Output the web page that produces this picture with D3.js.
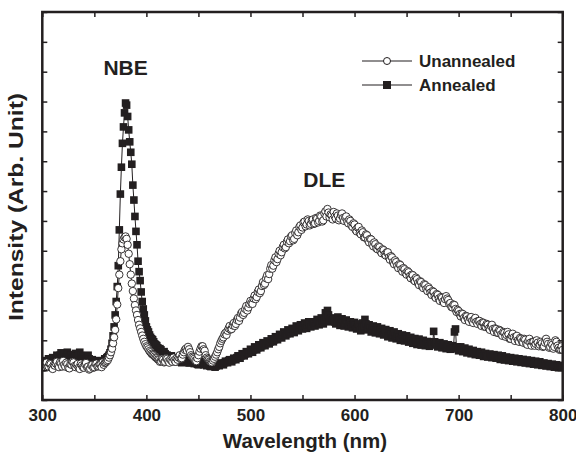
<!DOCTYPE html>
<html>
<head>
<meta charset="utf-8">
<script src="https://cdn.jsdelivr.net/npm/d3@7"></script>
<style>
  body { margin: 0; background: #fff; }
  svg { display: block; }
  text { font-family: "Liberation Sans", Arial, sans-serif; font-weight: bold; fill: #231f20; }
</style>
</head>
<body>
<div id="chart"></div>
<script>
// wavelength grid (nm), 1 nm steps
const wavelength = [
  300,301,302,303,304,305,306,307,308,309,310,311,312,313,314,315,316,317,318,319,
  320,321,322,323,324,325,326,327,328,329,330,331,332,333,334,335,336,337,338,339,
  340,341,342,343,344,345,346,347,348,349,350,351,352,353,354,355,356,357,358,359,
  360,361,362,363,364,365,366,367,368,369,370,371,372,373,374,375,376,377,378,379,
  380,381,382,383,384,385,386,387,388,389,390,391,392,393,394,395,396,397,398,399,
  400,401,402,403,404,405,406,407,408,409,410,411,412,413,414,415,416,417,418,419,
  420,421,422,423,424,425,426,427,428,429,430,431,432,433,434,435,436,437,438,439,
  440,441,442,443,444,445,446,447,448,449,450,451,452,453,454,455,456,457,458,459,
  460,461,462,463,464,465,466,467,468,469,470,471,472,473,474,475,476,477,478,479,
  480,481,482,483,484,485,486,487,488,489,490,491,492,493,494,495,496,497,498,499,
  500,501,502,503,504,505,506,507,508,509,510,511,512,513,514,515,516,517,518,519,
  520,521,522,523,524,525,526,527,528,529,530,531,532,533,534,535,536,537,538,539,
  540,541,542,543,544,545,546,547,548,549,550,551,552,553,554,555,556,557,558,559,
  560,561,562,563,564,565,566,567,568,569,570,571,572,573,574,575,576,577,578,579,
  580,581,582,583,584,585,586,587,588,589,590,591,592,593,594,595,596,597,598,599,
  600,601,602,603,604,605,606,607,608,609,610,611,612,613,614,615,616,617,618,619,
  620,621,622,623,624,625,626,627,628,629,630,631,632,633,634,635,636,637,638,639,
  640,641,642,643,644,645,646,647,648,649,650,651,652,653,654,655,656,657,658,659,
  660,661,662,663,664,665,666,667,668,669,670,671,672,673,674,675,676,677,678,679,
  680,681,682,683,684,685,686,687,688,689,690,691,692,693,694,695,696,697,698,699,
  700,701,702,703,704,705,706,707,708,709,710,711,712,713,714,715,716,717,718,719,
  720,721,722,723,724,725,726,727,728,729,730,731,732,733,734,735,736,737,738,739,
  740,741,742,743,744,745,746,747,748,749,750,751,752,753,754,755,756,757,758,759,
  760,761,762,763,764,765,766,767,768,769,770,771,772,773,774,775,776,777,778,779,
  780,781,782,783,784,785,786,787,788,789,790,791,792,793,794,795,796,797,798,799,
  800
];

// intensity, arbitrary units
const unannealed = [
  118,112,108,120,125,110,112,122,120,108,104,118,115,122,128,114,110,126,122,112,
  131,118,112,125,120,108,106,120,118,128,126,114,110,118,121,108,104,122,116,110,
  108,120,124,110,112,102,105,116,118,108,110,122,122,112,114,120,120,110,126,118,
  124,126,130,134,142,150,160,172,190,210,235,270,320,375,420,465,505,525,538,545,
  548,540,520,490,455,420,390,365,340,318,300,285,268,252,240,228,216,205,195,187,
  180,176,170,164,160,155,152,150,146,142,140,136,134,128,130,138,135,126,128,140,
  138,130,125,136,132,128,142,134,128,140,135,142,150,138,140,152,160,168,172,165,
  178,170,160,150,145,142,138,132,130,140,150,162,172,180,180,170,165,150,142,138,
  135,130,128,126,132,138,145,152,160,170,178,190,198,205,210,220,225,218,232,240,
  248,236,238,250,258,248,255,268,275,265,276,290,295,285,292,305,315,300,310,322,
  332,325,322,340,350,338,345,362,370,358,365,382,395,385,390,408,418,405,422,440,
  452,440,450,468,478,462,472,490,500,485,495,512,520,508,512,530,538,525,532,548,
  552,535,540,560,568,552,562,580,585,570,578,595,598,582,588,605,600,585,590,602,
  605,590,592,610,608,595,600,618,615,598,602,625,632,615,640,628,612,622,618,605,
  630,615,608,625,618,602,608,620,625,610,600,612,615,598,592,605,600,585,580,592,
  588,570,565,578,580,560,555,568,562,545,545,555,552,535,528,540,538,522,515,528,
  522,508,505,515,512,498,492,505,502,488,484,495,495,478,470,482,478,462,455,468,
  462,450,442,455,452,438,430,442,438,425,420,432,428,415,408,420,418,402,398,410,
  405,392,385,398,395,380,375,388,385,372,365,378,372,360,352,365,362,348,342,355,
  352,340,332,345,342,330,325,338,348,340,335,322,325,312,310,320,318,305,295,302,
  298,288,280,290,288,275,268,282,280,270,262,275,278,265,258,270,275,262,255,265,
  265,255,248,260,258,245,245,255,252,240,235,248,252,238,228,240,238,225,225,235,
  232,220,215,228,225,212,218,228,220,205,205,215,222,210,198,212,215,200,195,208,
  205,195,192,205,202,188,185,198,205,192,182,195,195,182,188,200,192,180,185,195,
  190,178,180,192,205,195,188,175,178,190,185,172,178,200,195,182,175,168,170,180,
  168
];

const annealed = [
  125,130,132,124,120,130,138,132,128,136,142,135,130,140,150,145,138,150,158,148,
  146,155,135,142,160,152,142,150,150,140,138,150,156,148,145,155,160,150,140,145,
  148,138,132,140,150,138,128,132,135,125,125,132,130,124,122,130,128,122,132,128,
  138,136,142,145,150,158,170,190,215,245,285,330,380,450,570,690,780,860,915,962,
  995,988,950,905,865,830,790,720,670,615,565,520,465,430,400,362,330,305,285,265,
  245,235,228,218,210,205,202,195,188,185,182,175,170,172,168,160,158,162,155,150,
  150,142,138,145,148,140,132,138,142,135,128,135,140,132,125,130,138,128,128,132,
  130,124,125,132,135,128,122,125,130,120,118,124,128,122,120,118,125,120,115,118,
  118,114,112,116,122,118,110,114,120,118,115,120,124,122,118,125,130,128,125,132,
  135,130,128,135,140,138,135,142,148,145,140,148,155,150,148,155,162,158,155,160,
  170,165,160,168,178,172,168,175,185,180,175,182,192,188,182,190,198,192,188,195,
  205,198,195,202,212,208,202,210,220,215,208,218,228,220,215,222,235,228,222,230,
  240,232,226,238,248,240,232,242,252,245,238,248,258,250,240,252,262,255,245,250,
  262,255,248,260,270,262,252,258,275,265,255,268,292,280,300,285,262,270,275,268,
  270,262,255,265,278,268,250,258,272,262,248,260,268,255,245,252,262,250,242,255,
  260,250,238,245,255,242,232,245,258,248,270,255,235,242,252,240,228,238,248,235,
  225,235,245,232,222,232,240,228,218,228,236,225,212,222,232,220,208,218,228,215,
  205,215,222,210,200,208,218,205,198,210,215,202,194,205,210,198,190,200,206,195,
  186,195,204,192,184,194,200,188,182,190,196,185,180,190,194,185,230,195,185,190,
  178,185,192,182,175,185,188,178,172,180,185,175,170,178,182,172,228,238,172,178,
  165,172,178,168,162,170,174,164,158,166,170,160,155,162,166,158,152,160,162,154,
  150,156,160,152,146,152,156,148,144,150,154,146,142,148,152,144,140,146,150,142,
  136,142,148,140,134,140,144,136,132,138,142,134,130,136,140,132,128,134,138,130,
  126,132,136,128,124,130,134,126,122,128,132,124,120,126,130,122,118,124,128,120,
  116,122,124,118,114,120,122,116,112,118,120,114,110,116,118,112,108,114,116,110,
  110
];

const xTicks = [300,350,400,450,500,550,600,650,700,750,800];
const xLabels = [300,400,500,600,700,800];
const seriesNames = ['Unannealed', 'Annealed'];
const peakLabels = [
  { text: 'NBE', wl: 380, value: 1090 },
  { text: 'DLE', wl: 571, value: 715 }
];

const W = 576, H = 454;
const margin = { left: 42.3, right: 13.3, top: 12, bottom: 54 };
const iw = W - margin.left - margin.right;
const ih = H - margin.top - margin.bottom;
const INK = '#231f20';

const svg = d3.select('#chart').append('svg')
  .attr('width', W)
  .attr('height', H);

const g = svg.append('g')
  .attr('transform', `translate(${margin.left},${margin.top})`);

const x = d3.scaleLinear().domain([300, 800]).range([0, iw]);
const y = d3.scaleLinear().domain([0, 1300]).range([ih, 0]);

const clip = svg.append('defs').append('clipPath').attr('id', 'plotClip');
clip.append('rect').attr('width', iw).attr('height', ih);

const plot = g.append('g').attr('clip-path', 'url(#plotClip)');

function drawSeries(values, kind) {
  const pts = wavelength.map((w, i) => ({ w, v: values[i] }));
  const line = d3.line().x(d => x(d.w)).y(d => y(d.v));
  plot.append('path')
    .datum(pts)
    .attr('d', line)
    .attr('fill', 'none')
    .attr('stroke', INK)
    .attr('stroke-width', 1);

  if (kind === 'square') {
    plot.append('g').selectAll('rect')
      .data(pts)
      .join('rect')
      .attr('x', d => x(d.w) - 3.8)
      .attr('y', d => y(d.v) - 3.8)
      .attr('width', 7.6)
      .attr('height', 7.6)
      .attr('fill', INK);
  } else {
    plot.append('g').selectAll('circle')
      .data(pts)
      .join('circle')
      .attr('cx', d => x(d.w))
      .attr('cy', d => y(d.v))
      .attr('r', 3.7)
      .attr('fill', '#fff')
      .attr('stroke', INK)
      .attr('stroke-width', 0.9);
  }
}

// annealed underneath, unannealed circles on top
drawSeries(annealed, 'square');
drawSeries(unannealed, 'circle');

// axes, ticks pointing inward on all four sides
const TICK = 5;
function styleAxis(sel) {
  sel.select('.domain').remove();
  sel.selectAll('.tick line').attr('stroke', INK).attr('stroke-width', 1.5);
}

g.append('g')
  .attr('transform', `translate(0,${ih})`)
  .call(d3.axisBottom(x).tickValues(xTicks).tickSize(-TICK).tickPadding(9)
    .tickFormat(d => xLabels.includes(d) ? d : ''))
  .call(styleAxis)
  .call(s => s.selectAll('.tick text')
    .attr('font-size', 17)
    .attr('font-family', '"Liberation Sans", Arial, sans-serif')
    .attr('fill', INK));

g.append('g')
  .call(d3.axisTop(x).tickValues(xTicks).tickSize(-TICK).tickFormat(''))
  .call(styleAxis);

g.append('g')
  .call(d3.axisLeft(y).ticks(13).tickSize(-TICK).tickFormat(''))
  .call(styleAxis);

g.append('g')
  .attr('transform', `translate(${iw},0)`)
  .call(d3.axisRight(y).ticks(13).tickSize(-TICK).tickFormat(''))
  .call(styleAxis);

g.append('rect')
  .attr('width', iw)
  .attr('height', ih)
  .attr('fill', 'none')
  .attr('stroke', INK)
  .attr('stroke-width', 2.5);

// axis titles
svg.append('text')
  .attr('x', 305)
  .attr('y', 448)
  .attr('text-anchor', 'middle')
  .attr('font-size', 20.5)
  .text('Wavelength (nm)');

svg.append('text')
  .attr('transform', 'translate(23,207) rotate(-90)')
  .attr('text-anchor', 'middle')
  .attr('font-size', 21)
  .attr('textLength', 228)
  .attr('lengthAdjust', 'spacingAndGlyphs')
  .text('Intensity (Arb. Unit)');

// peak annotations
g.selectAll('.peak')
  .data(peakLabels)
  .join('text')
  .attr('class', 'peak')
  .attr('x', d => x(d.wl))
  .attr('y', d => y(d.value))
  .attr('text-anchor', 'middle')
  .attr('font-size', 21)
  .text(d => d.text);

// legend
const legend = svg.append('g').attr('transform', 'translate(362,61)');
seriesNames.forEach((name, i) => {
  const row = legend.append('g').attr('transform', `translate(0,${i * 24})`);
  row.append('line')
    .attr('x1', 0).attr('x2', 50)
    .attr('stroke', INK).attr('stroke-width', 1.2);
  if (i === 0) {
    row.append('circle')
      .attr('cx', 25).attr('r', 3.5)
      .attr('fill', '#fff').attr('stroke', INK).attr('stroke-width', 1);
  } else {
    row.append('rect')
      .attr('x', 21).attr('y', -4).attr('width', 8).attr('height', 8)
      .attr('fill', INK);
  }
  row.append('text')
    .attr('x', 57)
    .attr('y', 6)
    .attr('font-size', 17)
    .text(name);
});
</script>
</body>
</html>
